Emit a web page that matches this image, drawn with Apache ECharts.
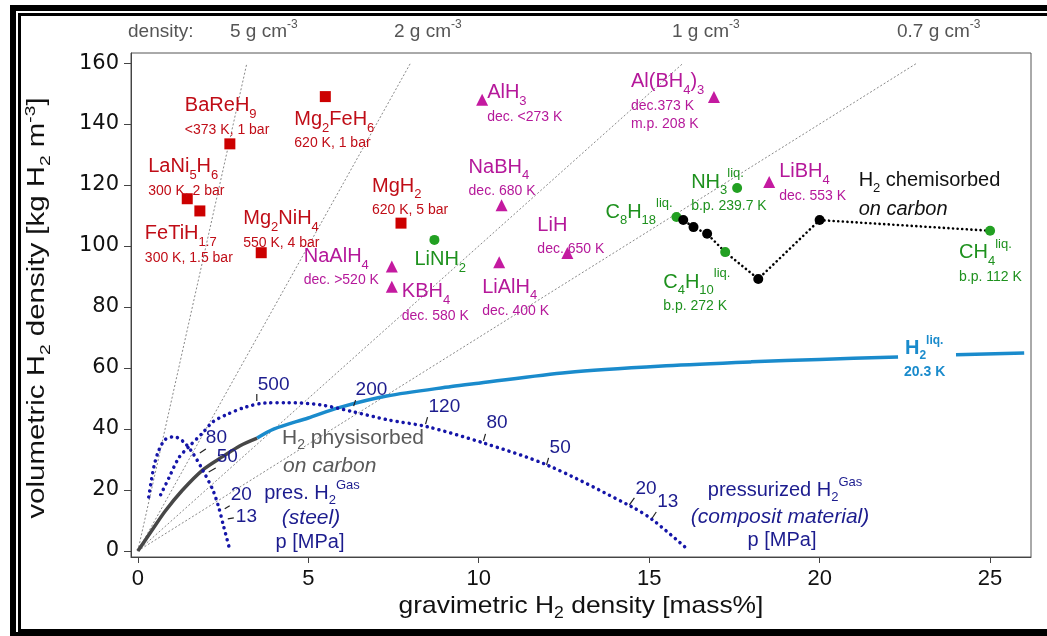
<!DOCTYPE html>
<html><head><meta charset="utf-8">
<script src="https://cdn.jsdelivr.net/npm/echarts@6/dist/echarts.min.js"></script>
<style>html,body{margin:0;padding:0;background:#fff}#c{width:1047px;height:636px}</style>
</head><body><div id="c"></div>
<script>
// ---------------- data ----------------
const xTicks = [0, 5, 10, 15, 20, 25];
const yTicks = [0, 20, 40, 60, 80, 100, 120, 140, 160];
const densities = [5, 2, 1, 0.7];            // g cm^-3 reference lines
const densityText = ['5 g cm', '2 g cm', '1 g cm', '0.7 g cm'];

const hydrideNames = ['BaReH9', 'Mg2FeH6', 'LaNi5H6', 'FeTiH1.7', 'Mg2NiH4', 'MgH2'];
const hydrideX = [2.7, 5.5, 1.45, 1.82, 3.62, 7.72];
const hydrideY = [133.5, 149, 115.5, 111.5, 97.8, 107.5];
const hydrideInfo = ['<373 K, 1 bar', '620 K, 1 bar', '300 K, 2 bar', '300 K, 1.5 bar', '550 K, 4 bar', '620 K, 5 bar'];

const complexNames = ['NaAlH4', 'KBH4', 'AlH3', 'NaBH4', 'LiAlH4', 'LiH', 'Al(BH4)3', 'LiBH4'];
const complexX = [7.45, 7.45, 10.1, 10.67, 10.6, 12.6, 16.9, 18.52];
const complexY = [93.3, 86.6, 148, 113.4, 94.7, 97.7, 148.9, 121];
const complexInfo = ['dec. >520 K', 'dec. 580 K', 'dec. <273 K', 'dec. 680 K', 'dec. 400 K', 'dec. 650 K', 'dec.373 K\nm.p. 208 K', 'dec. 553 K'];

const liquidNames = ['LiNH2', 'C8H18', 'NH3', 'C4H10', 'CH4'];
const liquidX = [8.7, 15.8, 17.58, 17.23, 25.0];
const liquidY = [102, 109.5, 119, 98, 105];
const liquidIsLiq = [false, true, true, true, true];
const liquidInfo = ['', '', 'b.p. 239.7 K', 'b.p. 272 K', 'b.p. 112 K'];

const chemX = [16.0, 16.3, 16.7, 18.2, 20.0];
const chemY = [108.5, 106.2, 104, 89.2, 108.5];
const chemPathX = [15.8, 16.0, 16.3, 16.7, 17.23, 18.2, 20.0, 25.0];
const chemPathY = [109.5, 108.5, 106.2, 104, 98, 89.2, 108.5, 105];

const physX = [0, 0.4, 0.8, 1.3, 1.9, 2.5, 3.0, 3.5];
const physY = [0, 6.5, 13, 19.8, 26.5, 31, 34.5, 37];
const liqH2X = [3.5, 4.0, 5.0, 5.9, 7.3, 9.2, 10.0, 12.6, 15.5, 18.0, 20.0, 22.3, null, 24.0, 26.0];
const liqH2Y = [37, 40, 43.6, 47, 50.8, 53.9, 55, 58.5, 60.7, 62, 62.8, 63.6, null, 64.3, 64.9];

const steelX = [0.32, 0.47, 0.62, 0.82, 1.08, 1.35, 1.61, 1.9, 2.2, 2.37, 2.52, 2.7];
const steelY = [17.7, 27.5, 33.1, 36.7, 37.4, 35.7, 32.1, 26.6, 20, 14.4, 7.9, 0.3];
const compX = [0.67, 0.91, 1.2, 1.49, 1.9, 2.2, 2.58, 3.17, 3.75, 4.4, 5.36, 6.33, 7.33, 8.5, 10.14, 12.0, 14.5, 15.1, 16.15];
const compY = [18.4, 23.9, 30.5, 34.1, 38.7, 42.3, 44.6, 47.2, 48.5, 48.6, 47.9, 45.6, 43, 40.7, 35.4, 28.2, 14.4, 10.2, 0.3];

const steelP = [80, 50, 20, 13];
const steelPX = [1.82, 2.08, 2.55, 2.64];
const steelPY = [32.1, 25.9, 13.8, 10.5];
const compP = [500, 200, 120, 80, 50, 20, 13];
const compPX = [3.49, 6.33, 8.44, 10.14, 11.99, 14.42, 15.09];
const compPY = [49.2, 47.5, 41.6, 36.1, 28.2, 15.1, 10.8];

// ---------------- styles / layout ----------------
const FONT = '"Liberation Sans", Arial, sans-serif';
const RED = '#cc0000', RED_T = '#c00d17';
const MAG = '#c41aa0', MAG_T = '#b5189a';
const GRN = '#22a022', GRN_T = '#1e911e';
const NAVY = '#1515a8', NAVY_T = '#1c1c8e';
const LBLUE = '#1a8bcc';

// label offsets [dx, dyTop] in px relative to marker
const labelPos = {
  'BaReH9': [-45, -53], 'Mg2FeH6': [-31, 8], 'LaNi5H6': [-39, -47], 'FeTiH1.7': [-55, 8],
  'Mg2NiH4': [-18, -49], 'MgH2': [-29, -52],
  'NaAlH4': [-88, -25], 'KBH4': [10, -10], 'AlH3': [5, -22], 'NaBH4': [-33, -53],
  'LiAlH4': [-17, 10], 'LiH': [-30, -43], 'Al(BH4)3': [-83, -30], 'LiBH4': [10, -25],
  'LiNH2': [-20, 5], 'C8H18': [-71, -20], 'NH3': [-46, -21], 'C4H10': [-62, 15], 'CH4': [-31, 7]
};
const steelLayout = [[6, -4, 6, -15], [7, -4, 8, -15], [5, -3, 6, -14], [6, -1, 8, -2]];
const compLayout = [[0, -7, 1, -16], [2, -6, 2, -16], [2, -7, 3, -17], [2, -7, 3, -18], [2, -7, 3, -17], [5, -7, 6, -16], [4, -6, 5, -16]];

const RICH = {
  n: { fontSize: 20, lineHeight: 30, fontFamily: FONT },
  s: { fontSize: 13, lineHeight: 13, padding: [17, 0, 0, 0], fontFamily: FONT },
  p: { fontSize: 13, lineHeight: 13, padding: [0, 0, 17, 0], fontFamily: FONT },
  d: { fontSize: 14, lineHeight: 18, fontFamily: FONT },
  i: { fontSize: 20, lineHeight: 28, fontStyle: 'italic', fontFamily: FONT }
};

function fmt(formula) {
  return formula.split(/(\d+(?:\.\d+)?)/).filter(s => s !== '')
    .map(s => /^\d/.test(s) ? '{s|' + s + '}' : '{n|' + s + '}').join('');
}
function labelText(name, liq, info) {
  let t = fmt(name) + (liq ? '{p|liq.}' : '');
  if (info) info.split('\n').forEach(l => { t += '\n{d|' + l + '}'; });
  return t;
}
function makeItems(names, xs, ys, infos, color, liqs) {
  return names.map((nm, i) => ({
    value: [xs[i], ys[i]],
    label: {
      show: true, position: 'inside', align: 'left', verticalAlign: 'top',
      offset: labelPos[nm], color: color, rich: RICH,
      formatter: labelText(nm, liqs ? liqs[i] : false, infos[i])
    }
  }));
}
const zip = (a, b) => a.map((v, i) => v === null ? null : [v, b[i]]);

function pressureSeries(xs, ys, ps, layout) {
  return {
    type: 'custom', coordinateSystem: 'cartesian2d', silent: true, z: 6,
    data: ps.map((p, i) => [xs[i], ys[i], i]), encode: { x: 0, y: 1 },
    renderItem: (params, api) => {
      const i = api.value(2);
      const pt = api.coord([api.value(0), api.value(1)]);
      const L = layout[i];
      return {
        type: 'group', children: [
          { type: 'line', shape: { x1: pt[0], y1: pt[1], x2: pt[0] + L[0], y2: pt[1] + L[1] }, style: { stroke: '#222', lineWidth: 1.2 } },
          { type: 'text', x: pt[0] + L[2], y: pt[1] + L[3], style: { text: String(ps[i]), fill: NAVY_T, font: '19px ' + FONT, align: 'left', verticalAlign: 'middle' } }
        ]
      };
    }
  };
}

// zrender rich for graphic texts
function grich(fs, extra) {
  return Object.assign({
    n: { fontSize: fs, lineHeight: 26, fontFamily: FONT },
    s: { fontSize: Math.round(fs * 0.65), lineHeight: 12, padding: [15, 0, 0, 0], fontFamily: FONT },
    p: { fontSize: Math.round(fs * 0.65), lineHeight: 12, padding: [0, 0, 15, 0], fontFamily: FONT },
    i: { fontSize: fs, lineHeight: 26, fontStyle: 'italic', fontFamily: FONT }
  }, extra || {});
}
function gtext(x, y, text, fill, fs, align, extra, elProps) {
  return Object.assign({ type: 'text', x: x, y: y, z: 10, silent: true,
    style: Object.assign({ text: text, fill: fill, font: fs + 'px ' + FONT, rich: grich(fs), align: align || 'left', verticalAlign: 'middle' }, extra || {}) }, elProps || {});
}

const densityLeft = [230, 394, 672, 897];
const graphics = [
  { type: 'rect', z: 100, silent: true, shape: { x: 13, y: 8, width: 1060, height: 627 }, style: { fill: 'none', stroke: '#000', lineWidth: 6 } },
  { type: 'rect', z: 100, silent: true, shape: { x: 19.5, y: 14.5, width: 1060, height: 616 }, style: { fill: 'none', stroke: '#000', lineWidth: 3 } },
  gtext(128, 32, '{n|density:}', '#555', 19)
];
densityText.forEach((t, i) => graphics.push(gtext(densityLeft[i], 32, '{n|' + t + '}{p|-3}', '#555', 19)));
graphics.push(
  gtext(38, 308, '{n|volumetric H}{s|2}{n| density [kg H}{s|2}{n| m}{p|-3}{n|]}', '#111', 23, 'center', null, { rotation: Math.PI / 2, scaleX: 1.28 }),
  gtext(581, 606, '{n|gravimetric H}{s|2}{n| density [mass%]}', '#111', 24, 'center', null, { scaleX: 1.1 }),
  gtext(282, 438, '{n|H}{s|2}{n| physisorbed}', '#5a5a5a', 21),
  gtext(283, 466, '{i|on carbon}', '#5a5a5a', 21),
  gtext(312, 493, '{n|pres. H}{s|2}{p|Gas}', NAVY_T, 20, 'center'),
  gtext(311, 518, '{i|(steel)}', NAVY_T, 21, 'center'),
  gtext(310, 542, '{n|p [MPa]}', NAVY_T, 20, 'center'),
  gtext(785, 490, '{n|pressurized H}{s|2}{p|Gas}', NAVY_T, 20, 'center'),
  gtext(780, 517, '{i|(composit material)}', NAVY_T, 21, 'center'),
  gtext(782, 540, '{n|p [MPa]}', NAVY_T, 20, 'center'),
  gtext(905, 348, '{n|H}{s|2}{p|liq.}', LBLUE, 20, 'left', { fontWeight: 'bold', rich: grich(20, {
      n: { fontSize: 20, lineHeight: 26, fontWeight: 'bold', fontFamily: FONT },
      s: { fontSize: 12, lineHeight: 12, padding: [15, 0, 0, 0], fontWeight: 'bold', fontFamily: FONT },
      p: { fontSize: 12, lineHeight: 12, padding: [0, 0, 15, 0], fontWeight: 'bold', fontFamily: FONT } }) }),
  gtext(904, 372, '{n|20.3 K}', LBLUE, 14, 'left', { rich: grich(14, { n: { fontSize: 14, fontWeight: 'bold', fontFamily: FONT } }) })
);

// ---------------- series ----------------
const series = [];
densities.forEach(d => series.push({
  type: 'line', silent: true, symbol: 'none', z: 1,
  data: [[0, 0], [160 / (10 * d), 160]],
  lineStyle: { color: '#888', width: 1, type: [2, 2] }
}));
series.push(
  { type: 'line', silent: true, symbol: 'none', z: 3, smooth: 0.3, data: zip(physX, physY), lineStyle: { color: '#474747', width: 3.5 } },
  { type: 'line', silent: true, symbol: 'none', z: 3, smooth: 0.3, connectNulls: false, data: zip(liqH2X, liqH2Y), lineStyle: { color: LBLUE, width: 3.5 } },
  { type: 'line', silent: true, symbol: 'none', z: 3, smooth: 0.3, data: zip(steelX, steelY), lineStyle: { color: NAVY, width: 3.5, type: [0.1, 6], cap: 'round' } },
  { type: 'line', silent: true, symbol: 'none', z: 3, smooth: 0.3, data: zip(compX, compY), lineStyle: { color: NAVY, width: 3.5, type: [0.1, 6], cap: 'round' } },
  { type: 'line', silent: true, symbol: 'none', z: 3, data: zip(chemPathX, chemPathY), lineStyle: { color: '#000', width: 2.6, type: [0.1, 4.5], cap: 'round' } },
  { type: 'scatter', silent: true, z: 5, symbol: 'rect', symbolSize: 11, itemStyle: { color: RED, opacity: 1 },
    data: makeItems(hydrideNames, hydrideX, hydrideY, hydrideInfo, RED_T) },
  { type: 'scatter', silent: true, z: 5, symbol: 'triangle', symbolSize: 12, itemStyle: { color: MAG, opacity: 1 },
    data: makeItems(complexNames, complexX, complexY, complexInfo, MAG_T) },
  { type: 'scatter', silent: true, z: 5, symbol: 'circle', symbolSize: 10, itemStyle: { color: GRN, opacity: 1 },
    data: makeItems(liquidNames, liquidX, liquidY, liquidInfo, GRN_T, liquidIsLiq) },
  { type: 'scatter', silent: true, z: 5, symbol: 'circle', symbolSize: 10, itemStyle: { color: '#000', opacity: 1 },
    data: chemX.map((x, i) => i === chemX.length - 1 ? {
      value: [x, chemY[i]],
      label: { show: true, position: 'inside', align: 'left', verticalAlign: 'top', offset: [39, -55], color: '#111', rich: RICH,
        formatter: '{n|H}{s|2}{n| chemisorbed}\n{i|on carbon}' }
    } : [x, chemY[i]]) },
  pressureSeries(steelPX, steelPY, steelP, steelLayout),
  pressureSeries(compPX, compPY, compP, compLayout)
);

const chart = echarts.init(document.getElementById('c'), null, { renderer: 'canvas' });
chart.setOption({
  animation: false,
  backgroundColor: '#fff',
  grid: { left: 131, right: 16, top: 53, bottom: 79, show: true, borderColor: '#555', borderWidth: 1, outerBoundsMode: 'none' },
  xAxis: {
    type: 'value', min: -0.2, max: 26.2,
    axisLine: { show: true, onZero: false, lineStyle: { color: '#444' } },
    axisTick: { show: true, length: 6, customValues: xTicks, lineStyle: { color: '#444' } },
    axisLabel: { customValues: xTicks, fontSize: 22, color: '#111', margin: 11, fontFamily: '"Liberation Sans Narrow", ' + FONT },
    splitLine: { show: false }
  },
  yAxis: {
    type: 'value', min: -2, max: 163.3,
    axisLine: { show: true, onZero: false, lineStyle: { color: '#444' } },
    axisTick: { show: true, length: 7, customValues: yTicks, lineStyle: { color: '#444' } },
    axisLabel: { customValues: yTicks, fontSize: 21, color: '#111', margin: 12, fontFamily: '"DejaVu Sans", ' + FONT },
    splitLine: { show: false }
  },
  graphic: graphics,
  series: series
});
</script></body></html>
